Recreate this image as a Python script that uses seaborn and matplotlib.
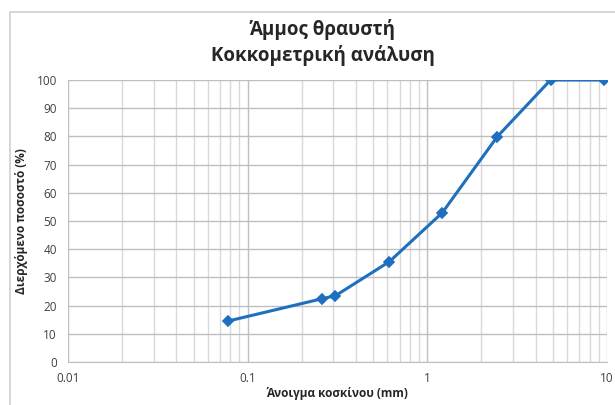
import matplotlib
matplotlib.use("Agg")
import matplotlib.pyplot as plt
import seaborn as sns
import pandas as pd
from matplotlib.ticker import FixedLocator, FixedFormatter, LogLocator, NullFormatter
from matplotlib.patches import Rectangle

sieve_mm = [0.0775, 0.258, 0.308, 0.615, 1.21, 2.45, 4.85, 9.6]
passing_pct = [14.5, 22.4, 23.5, 35.6, 52.9, 79.9, 100, 100]
x_ticks = [0.01, 0.1, 1, 10]
x_tick_labels = ["0.01", "0.1", "1", "10"]
y_ticks = [0, 10, 20, 30, 40, 50, 60, 70, 80, 90, 100]

title = "Άμμος θραυστή\nΚοκκομετρική ανάλυση"
xlabel = "Άνοιγμα κοσκίνου (mm)"
ylabel = "Διερχόμενο ποσοστό (%)"

df = pd.DataFrame({"x": sieve_mm, "y": passing_pct})

sns.set_style("white")
plt.rcParams["font.family"] = ["Open Sans", "DejaVu Sans"]

fig = plt.figure(figsize=(6.15, 4.05), dpi=100)
fig.patches.append(Rectangle((10/615, -0.1), 1.0, 1 - 12/405 + 0.1, transform=fig.transFigure,
                             fill=False, edgecolor="#d0d0d0", linewidth=1.2))
ax = fig.add_axes([68/615, 43/405, 539/615, 282/405])

sns.lineplot(data=df, x="x", y="y", ax=ax, color="#1F6FBF", linewidth=2.2,
             marker="D", markersize=5.5, markeredgewidth=1.2,
             markeredgecolor="#1F6FBF", markerfacecolor="#1F6FBF")

ax.set_xscale("log")
ax.set_xlim(0.01, 10)
ax.set_ylim(0, 100)
ax.xaxis.set_major_locator(FixedLocator(x_ticks))
ax.xaxis.set_major_formatter(FixedFormatter(x_tick_labels))
ax.xaxis.set_minor_locator(LogLocator(base=10, subs=range(2, 10)))
ax.xaxis.set_minor_formatter(NullFormatter())
ax.set_yticks(y_ticks)

ax.grid(True, which="major", axis="both", color="#bfbfbf", linewidth=1.0)
ax.grid(True, which="minor", axis="x", color="#d9d9d9", linewidth=1.0)
ax.set_axisbelow(True)
for s in ["top", "right", "left"]:
    ax.spines[s].set_visible(False)
ax.spines["bottom"].set_color("#bfbfbf")
ax.tick_params(axis="both", which="both", length=0, labelsize=8.5, labelcolor="#404040")
ax.tick_params(axis="x", pad=7)
ax.tick_params(axis="y", pad=8)

ax.set_xlabel(xlabel, fontsize=8.5, fontweight="bold", color="#262626", va="center")
ax.set_ylabel(ylabel, fontsize=8.5, fontweight="bold", color="#262626", va="center")
ax.xaxis.set_label_coords((337 - 68) / 539, (362 - 394) / 282)
ax.yaxis.set_label_coords((21 - 68) / 539, 0.5)
fig.text(0.525, 0.952, title, ha="center", va="top", fontsize=13.5, fontweight="bold",
         color="#262626", linespacing=1.3)

fig.savefig("out.png", dpi=100)
